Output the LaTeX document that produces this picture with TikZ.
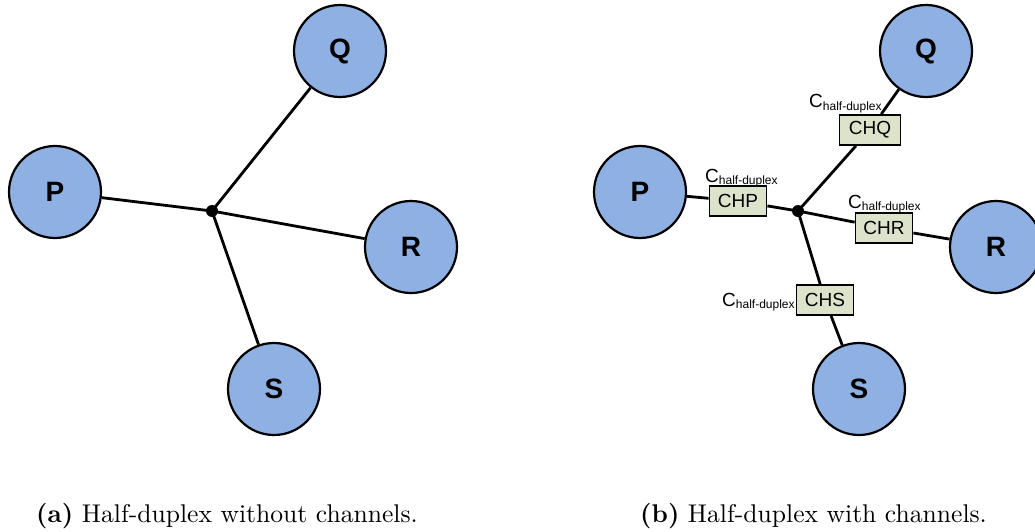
\documentclass[tikz,border=0pt]{standalone}
\usepackage{fontspec}
\newfontfamily\arialish{Liberation Sans}
\newfontfamily\capfont{lmroman10}[Extension=.otf,UprightFont=*-regular,BoldFont=*-bold]
\begin{document}
\begin{tikzpicture}[x=1pt,y=-1pt,
  peer/.style={circle,draw=black,line width=2.2pt,fill=peerblue,minimum size=92pt,inner sep=0pt,
    font=\arialish\bfseries\fontsize{28}{30}\selectfont},
  hub/.style={circle,fill=black,minimum size=12pt,inner sep=0pt},
  chan/.style={draw=black,line width=1.8pt,fill=chanfill,minimum width=57pt,minimum height=30pt,inner sep=0pt,
    font=\arialish\fontsize{19}{20}\selectfont},
  clabel/.style={inner sep=0pt,font=\arialish\fontsize{19}{20}\selectfont},
  wire/.style={line width=2.8pt},
  captext/.style={anchor=base west,inner sep=0pt,font=\capfont\fontsize{25.6}{30}\selectfont}]
\definecolor{peerblue}{RGB}{142,176,226}
\definecolor{chanfill}{RGB}{221,227,203}
\useasboundingbox (0,0) rectangle (1035,532);

\newcommand{\chalf}{C\textsubscript{\fontsize{12}{13}\selectfont half-duplex}}

% left: plain half-duplex hub
\node[hub] (h1) at (212,211) {};
\node[peer] (p1) at (55,192) {P};
\node[peer] (q1) at (340,51) {Q};
\node[peer] (r1) at (411,247) {R};
\node[peer] (s1) at (274,389) {S};
\draw[wire] (h1.center) -- (p1);
\draw[wire] (h1.center) -- (q1);
\draw[wire] (h1.center) -- (r1);
\draw[wire] (h1.center) -- (s1);

% right: hub with a channel on every branch
\node[hub] (h2) at (798,211) {};
\node[peer] (p2) at (640,192) {P};
\node[peer] (q2) at (926,51) {Q};
\node[peer] (r2) at (996,247) {R};
\node[peer] (s2) at (859,389) {S};
\node[chan] (cp) at (738,201) {CHP};
\node[chan,minimum width=61pt] (cq) at (870,130) {CHQ};
\node[chan] (cr) at (884,228) {CHR};
\node[chan] (cs) at (825,300) {CHS};
\draw[wire] (h2.center) -- (cp) -- (p2);
\draw[wire] (h2.center) -- (cq) -- (q2);
\draw[wire] (h2.center) -- (cr) -- (r2);
\draw[wire] (h2.center) -- (cs) -- (s2);
\node[clabel,anchor=base west] (lp) at (705,182) {\chalf};
\node[clabel,anchor=base west] (lq) at (809,108) {\chalf};
\node[clabel,anchor=base west] (lr) at (848,208) {\chalf};
\node[clabel,anchor=base west] (ls) at (722,306) {\chalf};

% captions
\node[captext] (ca) at (36,522) {\textbf{(a)} Half-duplex without channels.};
\node[captext] (cb) at (640,522) {\textbf{(b)} Half-duplex with channels.};
\end{tikzpicture}
\end{document}
